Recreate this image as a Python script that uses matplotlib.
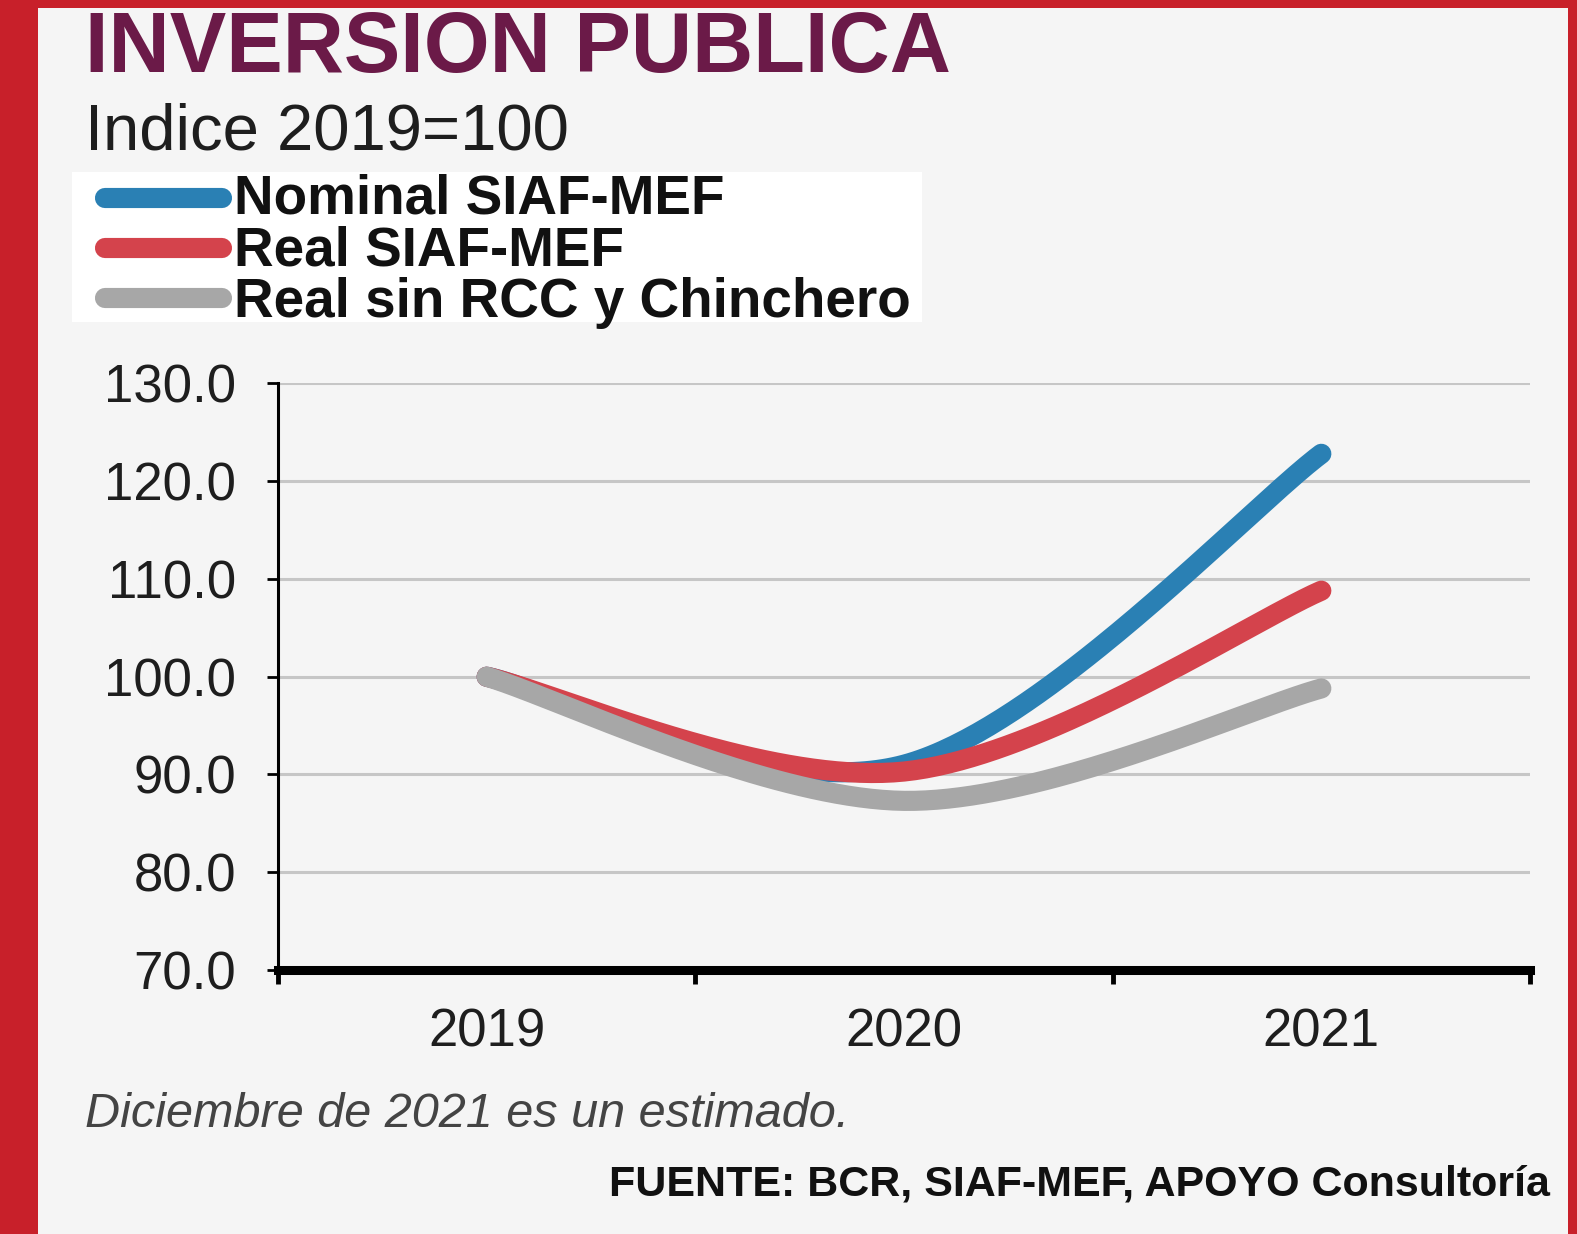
import matplotlib.pyplot as plt
from matplotlib.lines import Line2D
from matplotlib.patches import Rectangle
import numpy as np

plt.rcParams['font.family'] = ['Liberation Sans', 'DejaVu Sans']

# -------------------------------------------------
# DATA
# -------------------------------------------------

years = ["2019", "2020", "2021"]
nominal = [100.0, 91.0, 122.8]
real = [100.0, 90.3, 108.8]
real_sin_rcc = [100.0, 87.3, 98.8]

series_names = ["Nominal SIAF-MEF", "Real SIAF-MEF", "Real sin RCC y Chinchero"]
series_colors = ["#2a80b4", "#d4434c", "#a7a7a7"]

y_ticks = [70, 80, 90, 100, 110, 120, 130]

W, H = 1577, 1234


def smooth(xs, ys, n=80):
    # excel-like smoothed line: bezier segments with catmull-rom control points
    xs = np.asarray(xs, float)
    ys = np.asarray(ys, float)
    px = np.concatenate([[xs[0]], xs, [xs[-1]]])
    py = np.concatenate([[ys[0]], ys, [ys[-1]]])
    out_x, out_y = [], []
    t = np.linspace(0, 1, n)
    for i in range(1, len(px) - 2):
        p0 = np.array([px[i], py[i]])
        p3 = np.array([px[i + 1], py[i + 1]])
        c1 = p0 + (np.array([px[i + 1], py[i + 1]]) - np.array([px[i - 1], py[i - 1]])) / 6
        c2 = p3 - (np.array([px[i + 2], py[i + 2]]) - np.array([px[i], py[i]])) / 6
        b = ((1 - t) ** 3)[:, None] * p0 + (3 * (1 - t) ** 2 * t)[:, None] * c1 \
            + (3 * (1 - t) * t ** 2)[:, None] * c2 + (t ** 3)[:, None] * p3
        out_x.extend(b[:, 0])
        out_y.extend(b[:, 1])
    return out_x, out_y


# -------------------------------------------------
# FIGURE
# -------------------------------------------------

fig = plt.figure(figsize=(W / 100, H / 100), dpi=100, facecolor="#f5f5f5")

# red frame
fig.add_artist(Rectangle((0, 0), 38 / W, 1, transform=fig.transFigure, color="#c8202a", lw=0))
fig.add_artist(Rectangle((0, 1 - 8 / H), 1, 8 / H, transform=fig.transFigure, color="#c8202a", lw=0))
fig.add_artist(Rectangle((1 - 9 / W, 0), 9 / W, 1, transform=fig.transFigure, color="#c8202a", lw=0))

ax = fig.add_axes([278 / W, 1 - 970 / H, (1530 - 278) / W, (970 - 383.4) / H])
ax.set_facecolor("#f5f5f5")

x = np.arange(len(years))
for vals, col, z in zip([nominal, real, real_sin_rcc], series_colors, [3, 4, 5]):
    sx, sy = smooth(x, vals)
    ax.plot(sx, sy, color=col, lw=14.5, solid_capstyle="round", zorder=z)

ax.set_xlim(-0.5, 2.5)
ax.set_ylim(70, 130)
ax.set_yticks(y_ticks)
ax.set_yticklabels([f"{v:.1f}" for v in y_ticks], fontsize=38, color="#1e1e1e")
ax.set_xticks(x)
ax.set_xticklabels(years, fontsize=38, color="#1e1e1e")
ax.set_xticks([-0.5, 0.5, 1.5, 2.5], minor=True)

ax.tick_params(axis="y", length=8, width=2, pad=22, direction="out")
ax.tick_params(axis="x", which="major", length=0, pad=27)
ax.tick_params(axis="x", which="minor", length=10, width=3.5, direction="out")

ax.yaxis.grid(True, color="#c6c6c6", lw=2.2, zorder=1)
ax.set_axisbelow(True)
for s in ["top", "right"]:
    ax.spines[s].set_visible(False)
ax.spines["left"].set_linewidth(2.2)
ax.spines["bottom"].set_linewidth(6.5)
ax.spines["bottom"].set_zorder(6)

# -------------------------------------------------
# TEXTS AND LEGEND
# -------------------------------------------------

fig.text(85 / W, 1 - 72 / H, "INVERSION PUBLICA", fontsize=61, fontweight="bold",
         color="#6b1a48", va="baseline")
fig.text(85 / W, 1 - 150 / H, "Indice 2019=100", fontsize=47, color="#1e1e1e", va="baseline")

fig.add_artist(Rectangle((72 / W, 1 - 322 / H), 850 / W, 150 / H,
                         transform=fig.transFigure, color="white", lw=0))
for i, (name, col) in enumerate(zip(series_names, series_colors)):
    yc = 198 + 50 * i
    fig.add_artist(Line2D([105 / W, 222 / W], [1 - yc / H, 1 - yc / H], transform=fig.transFigure,
                          color=col, lw=14.5, solid_capstyle="round"))
    fig.text(234 / W, 1 - (213 + 52 * i) / H, name, fontsize=39.5, fontweight="bold",
             color="#111111", va="baseline")

fig.text(85 / W, 1 - 1127 / H, "Diciembre de 2021 es un estimado.", fontsize=35,
         style="italic", color="#444444", va="baseline")
fig.text(1550 / W, 1 - 1196 / H, "FUENTE: BCR, SIAF-MEF, APOYO Consultoría", fontsize=31,
         fontweight="bold", color="#111111", va="baseline", ha="right")

fig.savefig("out.png", dpi=100, facecolor=fig.get_facecolor())
